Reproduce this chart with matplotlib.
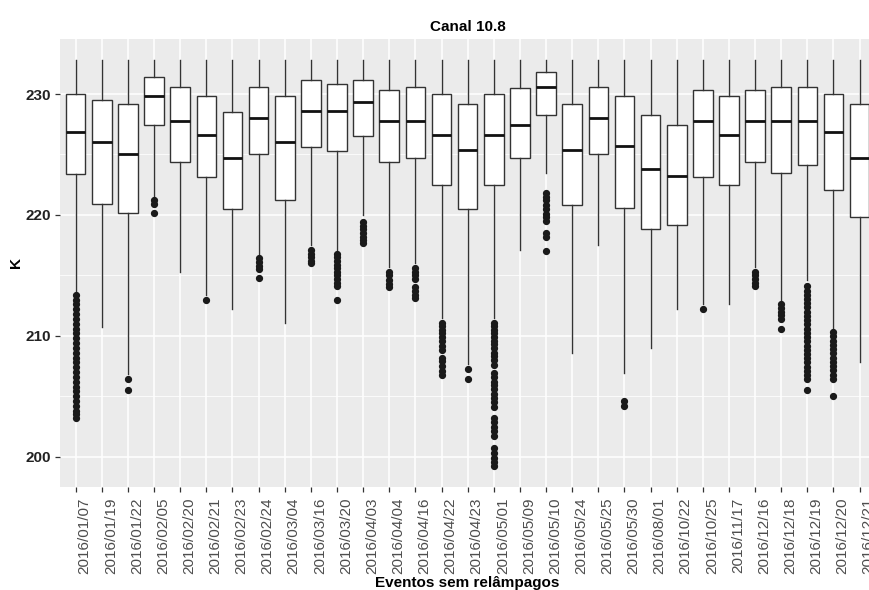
import matplotlib
matplotlib.use("Agg")
import matplotlib.pyplot as plt
import matplotlib.transforms as mtransforms
from matplotlib.ticker import MultipleLocator

plt.rcParams['font.family'] = ['Liberation Sans', 'DejaVu Sans']

# event dates (x categories)
dates = ["2016/01/07", "2016/01/19", "2016/01/22", "2016/02/05", "2016/02/20",
         "2016/02/21", "2016/02/23", "2016/02/24", "2016/03/04", "2016/03/16",
         "2016/03/20", "2016/04/03", "2016/04/04", "2016/04/16", "2016/04/22",
         "2016/04/23", "2016/05/01", "2016/05/09", "2016/05/10", "2016/05/24",
         "2016/05/25", "2016/05/30", "2016/08/01", "2016/10/22", "2016/10/25",
         "2016/11/17", "2016/12/16", "2016/12/18", "2016/12/19", "2016/12/20",
         "2016/12/21"]

# box statistics (K)
q3 = [230.0, 229.5, 229.2, 231.4, 230.6, 229.8, 228.5, 230.6, 229.8, 231.2,
      230.85, 231.2, 230.3, 230.6, 230.0, 229.2, 230.0, 230.5, 231.8, 229.2,
      230.6, 229.8, 228.3, 227.4, 230.35, 229.8, 230.35, 230.6, 230.6, 230.0,
      229.2]
med = [226.9, 226.0, 225.0, 229.8, 227.8, 226.6, 224.7, 228.0, 226.0, 228.6,
       228.6, 229.3, 227.8, 227.8, 226.6, 225.4, 226.6, 227.4, 230.6, 225.4,
       228.0, 225.7, 223.8, 223.2, 227.8, 226.6, 227.8, 227.8, 227.8, 226.9,
       224.7]
q1 = [223.4, 220.9, 220.2, 227.4, 224.4, 223.1, 220.5, 225.0, 221.2, 225.6,
      225.3, 226.5, 224.4, 224.7, 222.5, 220.5, 222.5, 224.7, 228.3, 220.85,
      225.0, 220.55, 218.8, 219.15, 223.1, 222.5, 224.4, 223.45, 224.1, 222.1,
      219.85]
whis_lo = [213.65, 210.7, 206.85, 221.5, 215.3, 213.4, 212.2, 216.55, 211.1, 217.5,
           217.1, 220.0, 215.7, 216.05, 211.45, 207.7, 211.45, 217.1, 223.5, 208.6,
           217.5, 206.9, 209.0, 212.2, 212.6, 212.6, 215.7, 213.0, 214.6, 210.6,
           207.8]
whis_hi = [232.8] * 31

outliers = [
    [213.4, 213.0, 212.6, 212.2, 211.8, 211.4, 211.0, 210.6, 210.2, 209.8, 209.4,
     209.0, 208.6, 208.2, 207.8, 207.4, 207.0, 206.6, 206.2, 205.8, 205.4, 205.0,
     204.6, 204.2, 203.8, 203.5, 203.2],
    [],
    [206.4, 205.5],
    [221.2, 220.9, 220.2],
    [],
    [213.0],
    [],
    [216.4, 216.1, 215.8, 215.5, 214.8],
    [],
    [217.1, 216.8, 216.5, 216.2, 216.0],
    [216.8, 216.5, 216.2, 215.9, 215.6, 215.3, 215.0, 214.7, 214.4, 214.1, 213.0],
    [219.4, 219.1, 218.8, 218.5, 218.2, 217.9, 217.7],
    [215.3, 215.0, 214.6, 214.3, 214.0],
    [215.6, 215.3, 215.0, 214.7, 214.0, 213.7, 213.4, 213.1],
    [211.1, 210.8, 210.5, 210.2, 209.9, 209.6, 209.2, 208.8, 208.2, 207.9, 207.5,
     207.1, 206.8],
    [207.25, 206.4],
    [211.1, 210.8, 210.5, 210.2, 209.9, 209.6, 209.3, 209.0, 208.6, 208.3, 208.0,
     207.6, 206.9, 206.6, 206.2, 205.9, 205.6, 205.2, 204.9, 204.5, 204.1, 203.2,
     202.9, 202.5, 202.1, 201.7, 200.7, 200.3, 199.9, 199.6, 199.2],
    [],
    [221.85, 221.5, 221.2, 220.8, 220.5, 220.1, 219.8, 219.5, 218.5, 218.2, 217.0],
    [],
    [],
    [204.6, 204.2],
    [],
    [],
    [212.2],
    [],
    [215.3, 215.0, 214.7, 214.4, 214.1],
    [212.6, 212.3, 212.0, 211.7, 211.4, 210.6],
    [214.1, 213.75, 213.4, 213.05, 212.7, 212.35, 212.0, 211.65, 211.3, 210.95,
     210.6, 210.25, 209.9, 209.55, 209.2, 208.85, 208.5, 208.15, 207.8, 207.45,
     207.1, 206.75, 206.4, 205.5],
    [210.3, 209.95, 209.6, 209.25, 208.9, 208.55, 208.2, 207.85, 207.5, 207.15,
     206.8, 206.45, 205.05],
    [],
]

stats = []
for i in range(len(dates)):
    stats.append(dict(med=med[i], q1=q1[i], q3=q3[i], whislo=whis_lo[i],
                      whishi=whis_hi[i], fliers=outliers[i], label=dates[i]))

fig = plt.figure(figsize=(8.7, 5.9), dpi=100)
# panel runs a little past the right edge, as in the original (cropped) image
ax = fig.add_axes([60/870, 1 - 487/590, 815.3/870, 448/590])
ax.set_facecolor("#EBEBEB")

positions = list(range(1, len(dates) + 1))
ax.bxp(stats, positions=positions, widths=0.75, patch_artist=True, showcaps=False,
       boxprops=dict(facecolor="white", edgecolor="#333333", linewidth=1.0),
       medianprops=dict(color="#111111", linewidth=2.0, solid_capstyle="butt"),
       whiskerprops=dict(color="#333333", linewidth=1.0),
       flierprops=dict(marker="o", markersize=4.2, markerfacecolor="#1a1a1a",
                       markeredgecolor="#1a1a1a", linestyle="none"),
       zorder=3)

ax.set_xlim(0.4, 31.6)
ax.set_ylim(197.5, 234.55)
ax.yaxis.set_major_locator(MultipleLocator(10))
ax.yaxis.set_minor_locator(MultipleLocator(5))
ax.set_xticks(positions)
ax.set_xticklabels(dates, rotation=90, ha="left", va="top", fontsize=11,
                   color="#4D4D4D")
ax.tick_params(axis="y", which="major", labelsize=11, colors="#333333",
               length=3.5, width=0.9, pad=3)
ax.tick_params(axis="x", which="major", length=3.5, width=0.9, colors="#333333",
               pad=4)
ax.tick_params(axis="x", labelcolor="#4D4D4D")
ax.tick_params(axis="y", which="minor", length=0)
for lab in ax.get_yticklabels():
    lab.set_fontweight("bold")
    lab.set_color("#222222")
offset = mtransforms.ScaledTranslation(2 / 100, 0, fig.dpi_scale_trans)
for lab in ax.get_xticklabels():
    lab.set_transform(lab.get_transform() + offset)

ax.grid(True, which="major", color="white", linewidth=1.1, zorder=0)
ax.grid(True, which="minor", axis="y", color="white", linewidth=0.55, zorder=0)
ax.set_axisbelow(True)
for s in ax.spines.values():
    s.set_visible(False)

ax.set_title("Canal 10.8", fontsize=11, fontweight="bold", pad=5.5)
ax.set_ylabel("K", fontsize=11, fontweight="bold", labelpad=1.5)
ax.set_xlabel("Eventos sem relâmpagos", fontsize=11, fontweight="bold", labelpad=1.5)

fig.savefig("out.png", dpi=100)
